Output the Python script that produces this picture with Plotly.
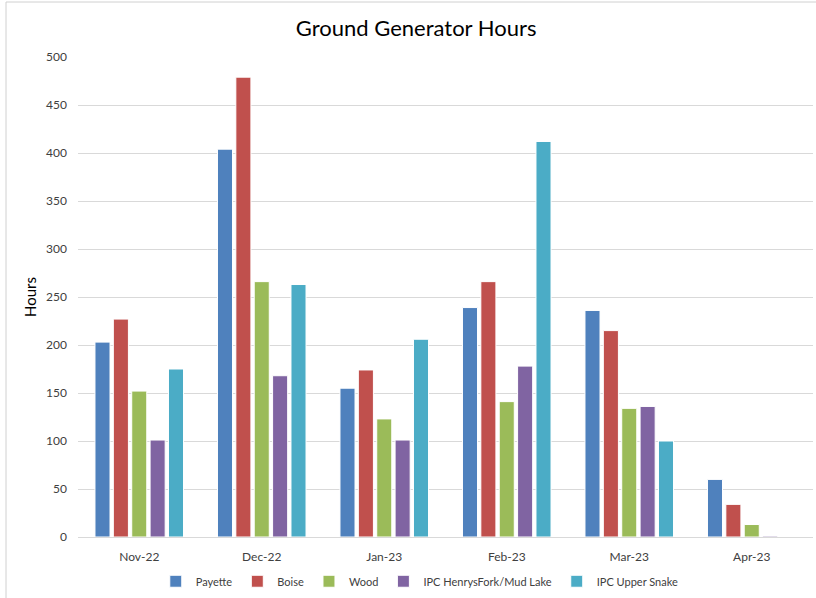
import plotly.graph_objects as go

months = ["Nov-22", "Dec-22", "Jan-23", "Feb-23", "Mar-23", "Apr-23"]

payette = [203, 404, 155, 239, 236, 60]
boise = [227, 479, 174, 266, 215, 34]
wood = [152, 266, 123, 141, 134, 13]
henrys_fork = [101, 168, 101, 178, 136, 1]
upper_snake = [175, 263, 206, 412, 100, 0]

series = [
    ("Payette", payette, "#4F81BD"),
    ("Boise", boise, "#C0504D"),
    ("Wood", wood, "#9BBB59"),
    ("IPC HenrysFork/Mud Lake", henrys_fork, "#8064A2"),
    ("IPC Upper Snake", upper_snake, "#4BACC6"),
]

fig = go.Figure()
for name, vals, color in series:
    fig.add_trace(go.Bar(
        name=name, x=months, y=vals,
        marker=dict(color=color, line=dict(color="white", width=1)),
    ))

fig.update_layout(
    width=816, height=598,
    barmode="group", bargap=0.25, bargroupgap=0.18,
    paper_bgcolor="white", plot_bgcolor="white",
    font=dict(family="Lato, Open Sans, sans-serif", color="#404040", size=12),
    title=dict(text="Ground Generator Hours", x=0.51, xanchor="center",
               y=1 - 28 / 598, yanchor="middle",
               font=dict(size=22, color="black")),
    margin=dict(l=78, r=3, t=57, b=61, autoexpand=False),
    xaxis=dict(showline=True, linecolor="#d9d9d9", ticks="", ticklabelstandoff=9,
               tickfont=dict(size=12, color="#404040")),
    yaxis=dict(range=[0, 500], dtick=50, gridcolor="#d9d9d9", zeroline=False,
               showline=False, ticks="", ticklabelstandoff=10,
               title=dict(text="Hours", font=dict(size=15, color="black"), standoff=5),
               tickfont=dict(size=12, color="#404040")),
    legend=dict(orientation="h", x=0.465, xanchor="center", y=-0.062, yanchor="top",
                bgcolor="rgba(0,0,0,0)",
                font=dict(size=11, color="#404040"), itemwidth=30, tracegroupgap=0),
    shapes=[dict(type="rect", xref="paper", yref="paper",
                 x0=(6 - 78) / 735, x1=(830 - 78) / 735,
                 y0=(537 - 620) / 480, y1=(537 - 2) / 480,
                 line=dict(color="#d0d0d0", width=1))],
)

fig.write_html("out.html", config={"displayModeBar": False},
               post_script="document.body.style.margin='0px';")
